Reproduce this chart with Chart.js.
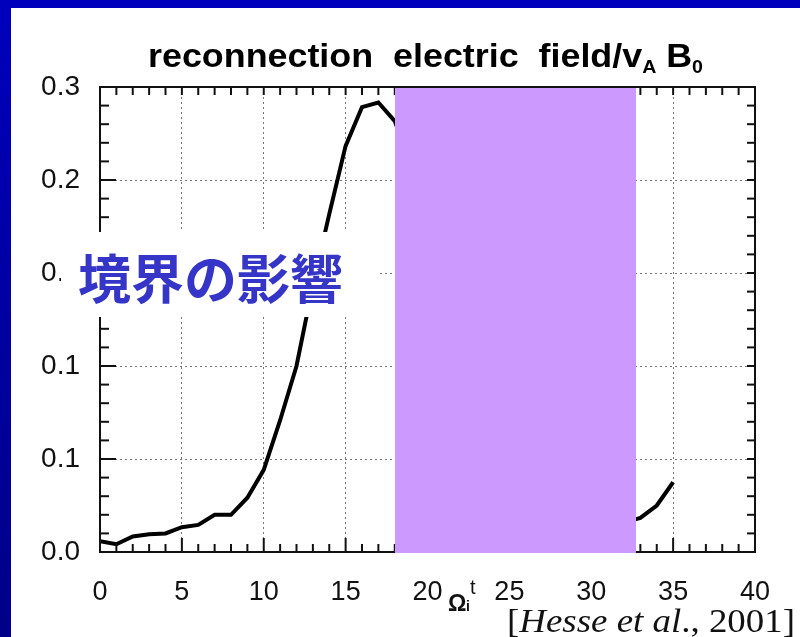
<!DOCTYPE html>
<html>
<head>
<meta charset="utf-8">
<script src="https://cdn.jsdelivr.net/npm/chart.js@4/dist/chart.umd.min.js"></script>
<style>
  html, body { margin: 0; padding: 0; background: #fff; }
  canvas { display: block; }
</style>
</head>
<body>
<canvas id="chart" width="800" height="637"></canvas>
<script>
// time in units of 1/Omega_i
const timeSteps = [0, 1, 2, 3, 4, 5, 6, 7, 8, 9, 10, 11, 12, 13, 14, 15, 16, 17,
  18, 19, 20, 21, 22, 23, 24, 25, 26, 27, 28, 29, 30, 31, 32, 33, 34, 35];
// reconnection electric field / vA B0 (18..32 hidden behind the box, guessed)
const fieldValues = [0.007, 0.005, 0.010, 0.0115, 0.012, 0.016, 0.0175, 0.024, 0.024, 0.035,
  0.053, 0.085, 0.120, 0.172, 0.218, 0.262, 0.287, 0.290,
  0.278, 0.250, 0.210, 0.170, 0.130, 0.100, 0.080, 0.065, 0.050, 0.040, 0.033, 0.028,
  0.024, 0.021, 0.019, 0.022, 0.030, 0.045];

const xTickValues = [0, 5, 10, 15, 20, 25, 30, 35, 40];
const yTickValues = [0, 0.06, 0.12, 0.18, 0.24, 0.3];
const yTickLabels = ["0.0", "0.1", "0.1", "0.2", "0.2", "0.3"];

const titleText = ["reconnection  electric  field/v", "A", " B", "0"];
const axisLabel = ["\u03A9", "i", "t"];
const noteText = "境界の影響";
const citeParts = ["[", "Hesse et al", "., 2001]"];

const sansFont = "'Liberation Sans', Arial, sans-serif";
const serifFont = "'Liberation Serif', 'Times New Roman', serif";

function drawRich(ctx, parts, x, y, width) {
  let total = 0;
  parts.forEach(p => {
    ctx.font = p.font;
    p.w = ctx.measureText(p.text).width;
    total += p.w;
  });
  const sx = width ? width / total : 1;
  ctx.save();
  ctx.translate(x, y);
  ctx.scale(sx, 1);
  let cx = 0;
  parts.forEach(p => {
    ctx.font = p.font;
    ctx.fillText(p.text, cx, p.dy || 0);
    cx += p.w;
  });
  ctx.restore();
}

function line(ctx, x1, y1, x2, y2) {
  ctx.beginPath();
  ctx.moveTo(x1, y1);
  ctx.lineTo(x2, y2);
  ctx.stroke();
}

const slideBackground = {
  id: "slideBackground",
  beforeDraw(chart) {
    const ctx = chart.ctx;
    const grad = ctx.createLinearGradient(0, 0, 0, chart.height);
    grad.addColorStop(0, "#0000bc");
    grad.addColorStop(1, "#000088");
    ctx.save();
    ctx.fillStyle = grad;
    ctx.fillRect(0, 0, chart.width, chart.height);
    ctx.fillStyle = "#0000bc";
    ctx.fillRect(0, 0, chart.width, 8);
    ctx.fillStyle = "#ffffff";
    ctx.fillRect(11, 8, chart.width - 11, chart.height - 8);
    ctx.restore();
  }
};

const slideDecor = {
  id: "slideDecor",
  afterDraw(chart) {
    const ctx = chart.ctx;
    const xs = chart.scales.x, ys = chart.scales.y;
    const { left, right, top, bottom } = chart.chartArea;

    ctx.save();
    // frame with inward ticks
    ctx.strokeStyle = "#111";
    ctx.lineWidth = 2;
    for (let v = 0; v <= 40; v++) {
      const px = xs.getPixelForValue(v);
      line(ctx, px, bottom, px, bottom - (v % 5 === 0 ? 14 : 8));
      line(ctx, px, top, px, top + 8);
    }
    for (let k = 0; k <= 25; k++) {
      const py = ys.getPixelForValue(k * 0.012);
      line(ctx, left, py, left + (k % 5 === 0 ? 16 : 9), py);
      line(ctx, right, py, right - 8, py);
    }
    ctx.strokeRect(left, top, right - left, bottom - top);

    // purple cover box
    ctx.fillStyle = "#cc99ff";
    ctx.fillRect(395, 88, 241, 465);

    // white label box
    ctx.fillStyle = "#ffffff";
    ctx.fillRect(61, 232, 317, 85);
    ctx.fillStyle = "#3535c8";
    ctx.font = "bold 53px 'Noto Sans CJK JP', sans-serif";
    ctx.textBaseline = "middle";
    ctx.fillText(noteText, 78, 279);

    // title
    ctx.textBaseline = "alphabetic";
    ctx.fillStyle = "#000";
    drawRich(ctx, [
      { text: titleText[0], font: "bold 33px " + sansFont },
      { text: titleText[1], font: "bold 18px " + sansFont, dy: 6 },
      { text: titleText[2], font: "bold 33px " + sansFont },
      { text: titleText[3], font: "bold 18px " + sansFont, dy: 6 }
    ], 148, 67, 555);

    // axis label
    ctx.fillStyle = "#111";
    ctx.font = "bold 23px " + sansFont;
    ctx.fillText(axisLabel[0], 448, 611);
    ctx.font = "bold 14px " + sansFont;
    ctx.fillText(axisLabel[1], 466, 611);
    ctx.font = "20px " + sansFont;
    ctx.fillText(axisLabel[2], 470, 594);

    // citation
    drawRich(ctx, [
      { text: citeParts[0], font: "33px " + serifFont },
      { text: citeParts[1], font: "italic 33px " + serifFont },
      { text: citeParts[2], font: "33px " + serifFont }
    ], 507, 632, 288);
    ctx.restore();
  }
};

new Chart(document.getElementById("chart"), {
  type: "line",
  data: {
    datasets: [{
      label: "E",
      data: timeSteps.map((t, i) => ({ x: t, y: fieldValues[i] })),
      borderColor: "#000",
      borderWidth: 4,
      pointRadius: 0,
      tension: 0,
      fill: false
    }]
  },
  options: {
    responsive: false,
    animation: false,
    devicePixelRatio: 1,
    layout: { padding: { top: 87, right: 45, left: 0, bottom: 0 } },
    plugins: {
      legend: { display: false },
      tooltip: { enabled: false }
    },
    scales: {
      x: {
        type: "linear",
        min: 0,
        max: 40,
        afterBuildTicks: s => { s.ticks = xTickValues.map(v => ({ value: v })); },
        afterFit: s => { s.height = 85; },
        border: { display: false, dash: [2, 3] },
        grid: { color: "#777", lineWidth: 1, drawTicks: false },
        ticks: {
          color: "#111",
          padding: 24,
          maxRotation: 0,
          font: { family: sansFont, size: 27 },
          callback: v => String(v)
        }
      },
      y: {
        type: "linear",
        min: 0,
        max: 0.3,
        afterBuildTicks: s => { s.ticks = yTickValues.map(v => ({ value: v })); },
        afterFit: s => { s.width = 100; },
        border: { display: false, dash: [2, 3] },
        grid: { color: "#777", lineWidth: 1, drawTicks: false },
        ticks: {
          color: "#111",
          padding: 20,
          font: { family: sansFont, size: 28 },
          callback: (v, i) => yTickLabels[i]
        }
      }
    }
  },
  plugins: [slideBackground, slideDecor]
});
</script>
</body>
</html>
